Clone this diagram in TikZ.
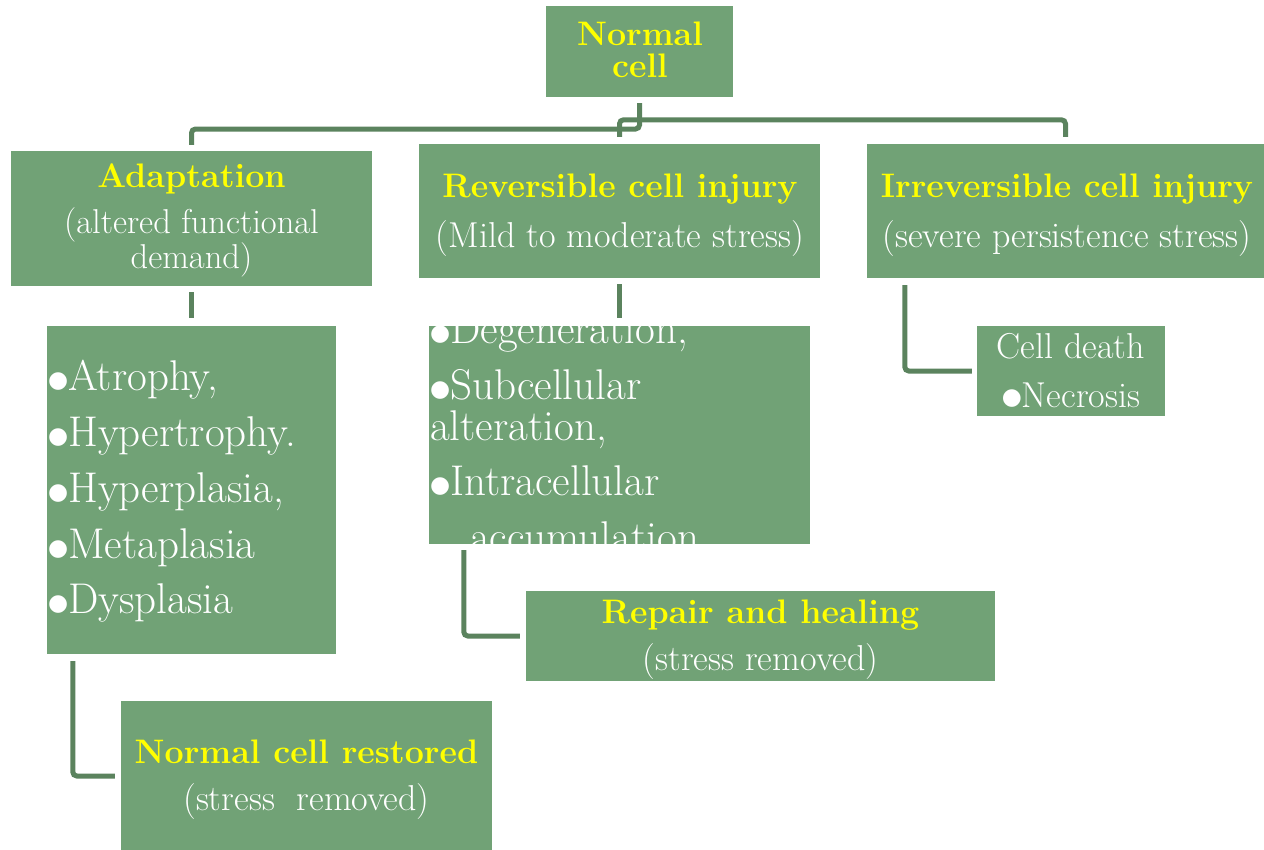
\documentclass[tikz,border=0pt]{standalone}
\usepackage{fontspec}
\newfontfamily\djv{DejaVu Sans}
\definecolor{boxg}{HTML}{71A276}
\definecolor{lineg}{HTML}{5B835E}
\definecolor{ttlc}{HTML}{FFFF00}
\newcommand{\bul}{\raisebox{0.06em}{\djv\fontsize{23}{23}\selectfont ●}}
\begin{document}
\begin{tikzpicture}[x=1pt,y=-1pt,
  box/.style={fill=boxg, draw=none, inner sep=0pt},
  txt/.style={text=white, inner sep=0pt, anchor=base, font=\fontsize{36}{36}\selectfont},
  hd/.style={text=ttlc, inner sep=0pt, anchor=base, font=\fontsize{34}{34}\selectfont\bfseries},
  lst/.style={text=white, inner sep=0pt, anchor=base west, font=\fontsize{43}{43}\selectfont},
  conn/.style={draw=lineg, line width=5pt, rounded corners=4pt}]
\useasboundingbox (0,0) rectangle (1264,849);
% boxes
\node[box, minimum width=187pt, minimum height=91pt] (normal) at (639.5,51.5) {};
\node[box, minimum width=361pt, minimum height=135pt] (adapt) at (191.5,218.5) {};
\node[box, minimum width=401pt, minimum height=134pt] (rev) at (619.5,211) {};
\node[box, minimum width=397pt, minimum height=134pt] (irr) at (1065.5,211) {};
\node[box, minimum width=289pt, minimum height=328pt] (adlist) at (191.5,490) {};
\node[box, minimum width=381pt, minimum height=218pt] (revlist) at (619.5,435) {};
\node[box, minimum width=188pt, minimum height=90pt] (death) at (1071,371) {};
\node[box, minimum width=469pt, minimum height=90pt] (repair) at (760.5,636) {};
\node[box, minimum width=371pt, minimum height=150pt] (restored) at (306.5,776) {};
% texts
\node[hd] (tnormal1) at (640,45) {Normal};
\node[hd] (tnormal2) at (640,77) {cell};
\node[hd] (tadapt) at (191.5,187) {Adaptation};
\node[txt, font=\fontsize{34.5}{34.5}\selectfont] (tadapt2) at (191.5,233) {(altered functional};
\node[txt, font=\fontsize{34.5}{34.5}\selectfont] (tadapt3) at (191.5,268) {demand)};
\node[hd] (trev) at (620,197) {Reversible cell injury};
\node[txt] (trev2) at (620,247) {(Mild to moderate stress)};
\node[hd] (tirr) at (1067,197) {Irreversible cell injury};
\node[txt] (tirr2) at (1067,247) {(severe persistence stress)};
\node[lst] (a1) at (48,390) {\bul Atrophy,};
\node[lst] (a2) at (48,446) {\bul Hypertrophy.};
\node[lst] (a3) at (48,502) {\bul Hyperplasia,};
\node[lst] (a4) at (48,558) {\bul Metaplasia};
\node[lst] (a5) at (48,613) {\bul Dysplasia};
\begin{scope}
  \clip (revlist.north west) rectangle (revlist.south east);
  \node[lst] (rl1) at (430,343) {\bul Degeneration,};
  \node[lst] (rl2) at (430,399) {\bul Subcellular};
  \node[lst] (rl3) at (430,440) {alteration,};
  \node[lst] (rl4) at (430,495) {\bul Intracellular};
  \node[lst] (rl5) at (470,551) {accumulation};
\end{scope}
\node[txt] (tdeath) at (1071,358) {Cell death};
\node[txt] (tdeath2) at (1071,407) {\bul Necrosis};
\node[hd] (trepair) at (760.5,623) {Repair and healing};
\node[txt] (trepair2) at (760.5,670) {(stress removed)};
\node[hd] (trest) at (306.5,763) {Normal cell restored};
\node[txt] (trest2) at (306.5,810) {(stress\ \ removed)};
% connectors
\draw[conn] ([yshift=-6pt]normal.south) |- (191.5,129) -- ([yshift=6pt]adapt.north);
\draw[conn] ([yshift=7pt]rev.north) |- ([yshift=24pt]irr.north) -- ([yshift=7pt]irr.north);
\draw[conn] ([yshift=-6pt]adapt.south) -- ([yshift=8pt]adlist.north);
\draw[conn] ([yshift=-6pt]rev.south) -- ([yshift=8pt]revlist.north);
\draw[conn] ([xshift=38pt,yshift=-7pt]irr.south west) |- ([xshift=-5pt]death.west);
\draw[conn] ([xshift=35pt,yshift=-6pt]revlist.south west) |- ([xshift=-6pt]repair.west);
\draw[conn] ([xshift=26pt,yshift=-7pt]adlist.south west) |- ([xshift=-6pt]restored.west);
\end{tikzpicture}
\end{document}
